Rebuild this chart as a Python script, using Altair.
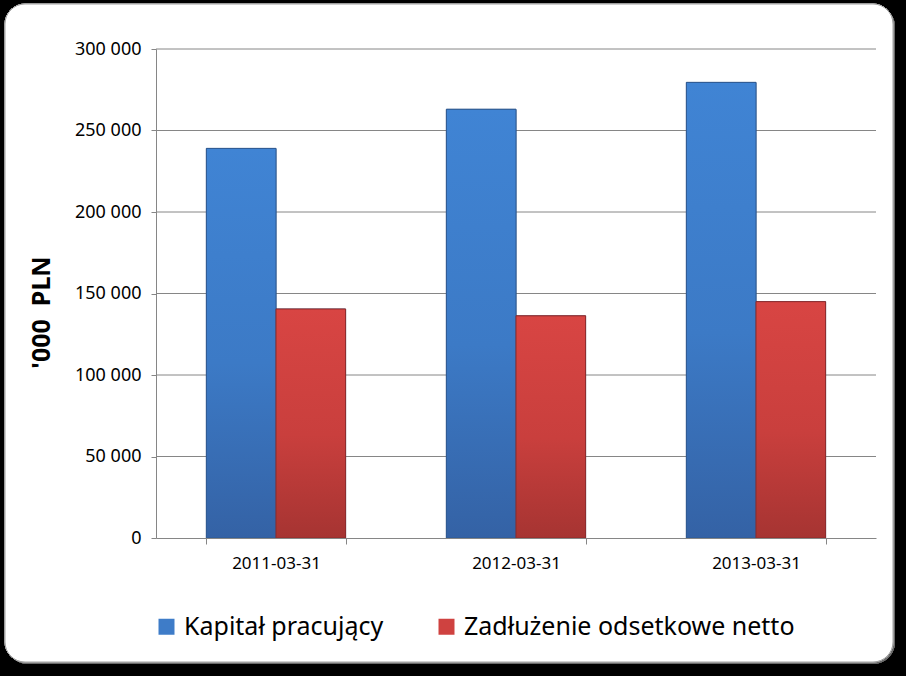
import altair as alt
import pandas as pd

dates = ["2011-03-31", "2012-03-31", "2013-03-31"]
series_names = ["Kapitał pracujący", "Zadłużenie odsetkowe netto"]
kapital = [239000, 263000, 279500]
zadluzenie = [140500, 136300, 145000]
y_ticks = [0, 50000, 100000, 150000, 200000, 250000, 300000]

rows = []
for d, k, z in zip(dates, kapital, zadluzenie):
    rows.append({"date": d, "series": series_names[0], "value": k})
    rows.append({"date": d, "series": series_names[1], "value": z})
df = pd.DataFrame(rows)
grid_df = pd.DataFrame({"value": y_ticks[1:]})

FONT = "Noto Sans"
GRID = "#868686"

x_enc = alt.X("date:N", title=None, sort=dates,
              scale=alt.Scale(paddingInner=0.42, paddingOuter=0.21),
              axis=alt.Axis(labelAngle=0, labelFontSize=17, labelFont=FONT, labelColor="#000000",
                            labelPadding=11, tickBand="extent", tickSize=6, tickColor=GRID,
                            domainColor=GRID, grid=False, zindex=1))
y_enc = alt.Y("value:Q", title="'000\u00a0\u00a0PLN",
              scale=alt.Scale(domain=[0, 300000]),
              axis=alt.Axis(values=y_ticks, grid=False, zindex=1,
                            labelExpr="replace(format(datum.value, ','), ',', ' ')",
                            labelFontSize=18, labelFont=FONT, labelColor="#000000",
                            labelPadding=10, tickSize=5, tickColor=GRID, domainColor=GRID,
                            titleFont=FONT, titleFontSize=25, titleFontWeight="bold",
                            titleColor="#000000", titleAngle=-90, titleX=-115, titleY=263,
                            titleAlign="center", titleBaseline="middle"))
xo = alt.XOffset("series:N", sort=series_names, scale=alt.Scale(domain=series_names))

base = alt.Chart(df)

# decorative panel with shadow
shadow = base.mark_rect(cornerRadius=22, fill="#6a6a6a").encode(
    x=alt.value(-150), x2=alt.value(739), y=alt.value(-44), y2=alt.value(615))
panel = base.mark_rect(cornerRadius=20, fill="#ffffff", stroke="#a0a0a0", strokeWidth=1).encode(
    x=alt.value(-151), x2=alt.value(737), y=alt.value(-45), y2=alt.value(613))

gridlines = alt.Chart(grid_df).mark_rule(color=GRID, strokeWidth=1).encode(y=y_enc)

bars = base.mark_bar(stroke="#2c4f80", strokeWidth=0.8).encode(
    x=x_enc, xOffset=xo, y=y_enc,
    color=alt.Color("series:N", sort=series_names,
                    scale=alt.Scale(domain=series_names, range=["#3E7CC8", "#CF4240"]),
                    legend=alt.Legend(title=None, orient="none", direction="horizontal",
                                      legendX=-2, legendY=565, padding=0,
                                      symbolType="square", symbolSize=256, symbolStrokeWidth=0,
                                      labelFont=FONT, labelFontSize=25, labelColor="#000000",
                                      labelOffset=5, columnPadding=50, labelLimit=400)))

blue_grad = alt.Gradient(gradient="linear", x1=0, y1=0, x2=0, y2=1,
                         stops=[alt.GradientStop(offset=0, color="#4084D4"),
                                alt.GradientStop(offset=0.55, color="#3C7AC6"),
                                alt.GradientStop(offset=1, color="#3462A5")])
red_grad = alt.Gradient(gradient="linear", x1=0, y1=0, x2=0, y2=1,
                        stops=[alt.GradientStop(offset=0, color="#D84543"),
                               alt.GradientStop(offset=0.55, color="#C93F3D"),
                               alt.GradientStop(offset=1, color="#A63432")])

blue_bars = base.transform_filter(alt.datum.series == series_names[0]).mark_bar(
    fill=blue_grad, stroke="#2f5a92", strokeWidth=1).encode(x=x_enc, xOffset=xo, y=y_enc)
red_bars = base.transform_filter(alt.datum.series == series_names[1]).mark_bar(
    fill=red_grad, stroke="#8e2b2a", strokeWidth=1).encode(x=x_enc, xOffset=xo, y=y_enc)

chart = alt.layer(shadow, panel, gridlines, bars, blue_bars, red_bars).properties(
    width=720, height=489,
    background="#000000",
    padding={"left": 156, "top": 49, "right": 30, "bottom": 138},
    autosize=alt.AutoSizeParams(type="none"),
).configure_view(stroke=None)

chart.save("out.html", embed_options={"renderer": "svg", "actions": False})
